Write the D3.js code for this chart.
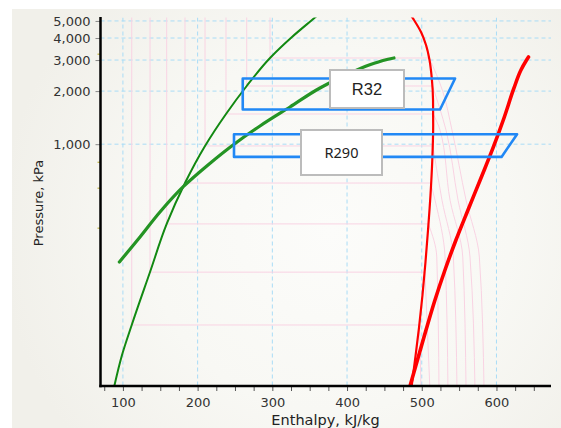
<!DOCTYPE html>
<head>
  <meta charset="utf-8">
  <script src="https://d3js.org/d3.v7.min.js"></script>
  <style>
body {
	margin: 0;
	background: #fff;
	}
.tick text {
	font-family: "DejaVu Sans", Verdana, sans-serif;
	font-size: 13px;
	fill: #333;
	}
.axisTitle {
	font-family: "DejaVu Sans", Verdana, sans-serif;
	fill: #222;
	}
  </style>
</head>

<body>
  <div id="graph"></div>
<script>
// Axis ticks
var xTicks = [100, 200, 300, 400, 500, 600];
var xMinorTicks = [75, 100, 125, 150, 175, 200, 225, 250, 275, 300, 325, 350, 375, 400,
                   425, 450, 475, 500, 525, 550, 575, 600, 625, 650];
var yTicks = [1000, 2000, 3000, 4000, 5000];
var yMarks = [3240, 790, 563, 334];

// Saturation curves [enthalpy kJ/kg, pressure kPa]
var r32Liquid = [[88.5, 42.5], [98.8, 63.7], [111.8, 94.3], [136.3, 188.4], [158.6, 352.6],
                 [183.1, 602.3], [209.9, 976.6], [238.0, 1483], [265.7, 2138], [296.9, 3082],
                 [326.3, 4055], [353.1, 5063], [361.1, 5405]];
var r32Vapor = [[486.5, 42.5], [491.0, 59.7], [496.3, 90.7], [501.0, 139.5], [505.0, 214.6],
                [508.4, 326], [511.7, 515], [514.1, 813], [515.3, 1284], [515.1, 1781],
                [513.4, 2374], [510.4, 3003], [505.7, 3654], [499.0, 4327], [489.6, 5063],
                [484.3, 5475]];
var r290Liquid = [[95.2, 214.6], [122.9, 297.5], [149.6, 412.4], [180.8, 573.8], [213.9, 762.2],
                  [247.4, 989.5], [283.5, 1268], [323.6, 1625], [363.8, 2083], [404.0, 2534],
                  [437.4, 2887], [454.8, 3030], [462.8, 3082]];
var r290Vapor = [[484.3, 42.5], [495.0, 61.3], [505.7, 88.3], [517.7, 130.7], [531.1, 193.4],
                 [545.8, 286.1], [561.9, 423.3], [579.3, 643], [595.4, 951.6], [610.1, 1408],
                 [623.5, 2083], [632.8, 2635], [639.5, 2964], [642.9, 3122]];

// Refrigeration cycles
var r32Cycle = [[260.4, 2358], [544.6, 2358], [524.5, 1573], [260.4, 1573]];
var r290Cycle = [[248.7, 1139], [627.6, 1139], [606.8, 847], [248.7, 847]];

// R32 isotherms: saturation pressure, liquid enthalpy, vapour branch
var isoPress = [3082, 2138, 1483, 977, 602, 353, 188, 94.3];
var isoLiqH = [296.9, 265.7, 238.0, 209.9, 183.1, 158.6, 136.3, 111.8];
var isoVapor = [
  [[510.1, 3082], [528, 2000], [540.5, 1200], [559.3, 481], [577.1, 229], [583.4, 40]],
  [[514.4, 2138], [532.5, 1200], [548.6, 481], [564.6, 229], [571.3, 40]],
  [[515.3, 1483], [524.5, 1200], [537.9, 481], [554.9, 229], [559.3, 40]],
  [[514.9, 977], [527.1, 481], [542.3, 229], [547.2, 40]],
  [[512.1, 602], [517.8, 481], [531.2, 229], [535.1, 40]],
  [[508.9, 353], [520.1, 229], [523.1, 40]],
  [[504.3, 188], [511.0, 40]],
  [[497.1, 94.3], [499.0, 40]]
];

var W = 561, H = 428;

var svg = d3.select("#graph")
    .append("svg")
    .attr("width", W)
    .attr("height", H);

// Background with soft gradient
var defs = svg.append("defs");
var grad = defs.append("radialGradient")
    .attr("id", "bg")
    .attr("gradientUnits", "userSpaceOnUse")
    .attr("cx", 330).attr("cy", 230).attr("r", 330);
grad.append("stop").attr("offset", "0%").attr("stop-color", "#fcfcfa");
grad.append("stop").attr("offset", "55%").attr("stop-color", "#f8f8f4");
grad.append("stop").attr("offset", "100%").attr("stop-color", "#f1f0ea");

svg.append("rect")
    .attr("x", 12).attr("y", 9)
    .attr("width", W - 12).attr("height", H - 9)
    .attr("fill", "url(#bg)");

// Scales
var x = d3.scaleLinear().domain([70, 673]).range([100.5, 551]);
var y = d3.scaleLog().domain([42.5, 5230]).range([386, 17.5]);

defs.append("clipPath").attr("id", "plot")
  .append("rect")
    .attr("x", 100.5).attr("y", 17.5)
    .attr("width", 451).attr("height", 368.5);

var plot = svg.append("g").attr("clip-path", "url(#plot)");

// Grid lines
plot.selectAll(".vgrid")
    .data(xTicks)
    .enter().append("line")
    .attr("x1", function(d) { return x(d); })
    .attr("x2", function(d) { return x(d); })
    .attr("y1", 17.5).attr("y2", 386)
    .style("stroke", "#a9dcf6")
    .style("stroke-dasharray", "4,3");

plot.selectAll(".hgrid")
    .data(yTicks)
    .enter().append("line")
    .attr("x1", 100.5).attr("x2", 551)
    .attr("y1", function(d) { return y(d); })
    .attr("y2", function(d) { return y(d); })
    .style("stroke", "#a9dcf6")
    .style("stroke-dasharray", "4,3");

// Isotherms (faint pink)
var line = d3.line()
    .x(function(d) { return x(d[0]); })
    .y(function(d) { return y(d[1]); });
var curve = d3.line()
    .x(function(d) { return x(d[0]); })
    .y(function(d) { return y(d[1]); })
    .curve(d3.curveMonotoneY);

isoPress.forEach(function(p, i) {
  var v = isoVapor[i];
  plot.append("path")
      .attr("d", line([[isoLiqH[i], 6000], [isoLiqH[i], p], [v[0][0], p]]))
      .attr("fill", "none")
      .style("stroke", "#f9d3e3")
      .style("stroke-width", 1);
  plot.append("path")
      .attr("d", curve(v))
      .attr("fill", "none")
      .style("stroke", "#f9d3e3")
      .style("stroke-width", 1);
});

// Saturation curves
plot.append("path").attr("d", curve(r32Liquid))
    .attr("fill", "none").style("stroke", "#128912").style("stroke-width", 2);
plot.append("path").attr("d", curve(r290Liquid))
    .attr("fill", "none").style("stroke", "#249424").style("stroke-width", 3.2)
    .style("stroke-linecap", "round");
plot.append("path").attr("d", curve(r32Vapor))
    .attr("fill", "none").style("stroke", "#ff0000").style("stroke-width", 2.2);
plot.append("path").attr("d", curve(r290Vapor))
    .attr("fill", "none").style("stroke", "#ff0000").style("stroke-width", 3.6)
    .style("stroke-linecap", "round");

// Cycles
[r32Cycle, r290Cycle].forEach(function(c) {
  svg.append("path")
      .attr("d", line(c) + "Z")
      .attr("fill", "none")
      .style("stroke", "#2188f5")
      .style("stroke-width", 2.6)
      .style("stroke-linejoin", "round");
});

// Labels
function label(x0, y0, w, h, txt, font, size) {
  svg.append("rect")
      .attr("x", x0).attr("y", y0).attr("width", w).attr("height", h)
      .attr("fill", "#fff")
      .style("stroke", "#bcbcbc")
      .style("stroke-width", 2);
  svg.append("text")
      .attr("x", x0 + w / 2).attr("y", y0 + h / 2)
      .attr("dy", "0.36em")
      .style("text-anchor", "middle")
      .style("font-family", font)
      .style("font-size", size + "px")
      .style("fill", "#222")
      .text(txt);
}
label(330, 70, 74, 38, "R32", "Liberation Sans, Arial", 16.5);
label(301, 130, 81, 45, "R290", "Noto Sans, sans-serif", 14.5);

// X axis
var xaxis = svg.append("g")
    .attr("transform", "translate(0,386)")
    .call(d3.axisBottom(x)
      .tickValues(xMinorTicks)
      .tickFormat(function(d) { return d % 100 === 0 ? d : ""; })
      .tickSize(5)
      .tickPadding(7));
xaxis.select(".domain").remove();
xaxis.selectAll(".tick line").style("stroke", "#555");

// Y axis
var yaxis = svg.append("g")
    .attr("transform", "translate(100.5,0)")
    .call(d3.axisLeft(y)
      .tickValues(yTicks)
      .tickFormat(d3.format(","))
      .tickSize(5)
      .tickPadding(5));
yaxis.select(".domain").remove();
yaxis.selectAll(".tick line").style("stroke", "#888");

svg.selectAll(".ymark")
    .data(yMarks)
    .enter().append("line")
    .attr("x1", 97.5).attr("x2", 100.5)
    .attr("y1", function(d) { return y(d); })
    .attr("y2", function(d) { return y(d); })
    .style("stroke", "#b5a825");

// Axis lines
svg.append("line")
    .attr("x1", 100.5).attr("x2", 100.5).attr("y1", 17).attr("y2", 387.2)
    .style("stroke", "#000").style("stroke-width", 2.5);
svg.append("line")
    .attr("x1", 99.3).attr("x2", 551).attr("y1", 386).attr("y2", 386)
    .style("stroke", "#000").style("stroke-width", 2.5);

// Axis titles
svg.append("text")
    .attr("class", "axisTitle")
    .attr("transform", "translate(43,203) rotate(-90)")
    .style("text-anchor", "middle")
    .style("font-size", "13px")
    .text("Pressure, kPa");

svg.append("text")
    .attr("class", "axisTitle")
    .attr("x", 325.5).attr("y", 424.5)
    .style("text-anchor", "middle")
    .style("font-size", "14.5px")
    .text("Enthalpy, kJ/kg");
</script>
</body>
